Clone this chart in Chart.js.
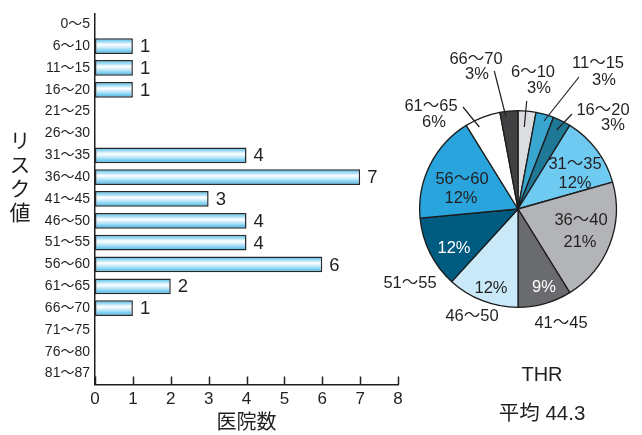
<!DOCTYPE html>
<html>
<head>
<meta charset="utf-8">
<script src="https://cdn.jsdelivr.net/npm/chart.js@4.4.1/dist/chart.umd.min.js"></script>
<style>
  body { margin: 0; background: #fff; }
  #wrap { position: relative; width: 642px; height: 435px; overflow: hidden;
          font-family: "Liberation Sans", "Noto Sans CJK JP", sans-serif; color: #231f20; }
  #barChart { position: absolute; left: 0; top: 0; }
  #pieChart { position: absolute; left: 370px; top: 0; }
  .yTitle { position: absolute; left: 9px; top: 130px; width: 22px; writing-mode: vertical-rl;
            font-family: "Noto Sans CJK JP", sans-serif; font-size: 21px; line-height: 22px; letter-spacing: 3px; }
  .note { position: absolute; left: 466px; width: 152px; text-align: center; }
</style>
</head>
<body>
<div id="wrap">
  <canvas id="barChart" width="410" height="435"></canvas>
  <canvas id="pieChart" width="272" height="435"></canvas>
  <div class="yTitle">リスク値</div>
  <div class="note" style="top:363px;font-size:20px;">THR</div>
  <div class="note" style="top:396px;font-size:20.5px;">平均 44.3</div>
</div>
<script>
const riskBands = ['0〜5', '6〜10', '11〜15', '16〜20', '21〜25', '26〜30', '31〜35', '36〜40', '41〜45',
  '46〜50', '51〜55', '56〜60', '61〜65', '66〜70', '71〜75', '76〜80', '81〜87'];
const clinicCounts = [0, 1, 1, 1, 0, 0, 4, 7, 3, 4, 4, 6, 2, 1, 0, 0, 0];
const countMax = 8;

// pie uses only the bands that have clinics in them
const pieBands = riskBands.filter((b, i) => clinicCounts[i] > 0);
const pieCounts = clinicCounts.filter(v => v > 0);
const piePercents = ['3%', '3%', '3%', '12%', '21%', '9%', '12%', '12%', '12%', '6%', '3%'];
const pieColours = ['#dcdde0', '#38a6cf', '#1f7896', '#6fcaf1', '#b3b4b7', '#6a6b6e',
  '#c9e9f9', '#005b80', '#29a4dc', '#ffffff', '#414144'];

const ink = '#231f20';

// caption placement per slice, offsets from the pie centre
// name: where the band name goes, pct: where the percentage goes, lead: leader line ends
const captionSpots = [
  { name: [15, -137], pct: [21, -121], lead: [8.7, -108, 6.3, -82] },
  { name: [80, -146], pct: [86, -129], lead: [61, -132, 26, -88] },
  { name: [85, -99], pct: [95, -84], lead: [54, -95, 38.7, -79] },
  { name: [57, -45], pct: [57, -26] },
  { name: [63, 11], pct: [62, 33] },
  { name: [43, 114], pct: [26, 78], pctColour: '#fff' },
  { name: [-46, 107], pct: [-27, 79] },
  { name: [-108, 74], pct: [-64, 39], pctColour: '#fff' },
  { name: [-56, -30], pct: [-57, -11] },
  { name: [-87, -103], pct: [-84, -87], lead: [-55, -102, -38.7, -82] },
  { name: [-42, -150], pct: [-41, -135], lead: [-23.7, -138, -12, -92] }
];

// bar fill: blue edges with a white shine just above the middle
function barFill(c) {
  const chart = c.chart;
  const y = chart.scales.y;
  if (!y || y.top === undefined) return '#8fd6f4';
  const mid = y.getPixelForValue(c.dataIndex);
  const g = chart.ctx.createLinearGradient(0, mid - 7, 0, mid + 7);
  g.addColorStop(0, '#55bfeb');
  g.addColorStop(0.4, '#ffffff');
  g.addColorStop(0.62, '#c4eafa');
  g.addColorStop(1, '#4ab9e9');
  return g;
}

const barExtras = {
  id: 'barExtras',
  afterDatasetsDraw(chart) {
    const ctx = chart.ctx;
    const meta = chart.getDatasetMeta(0);
    ctx.save();
    ctx.fillStyle = ink;
    ctx.font = '18.5px "Liberation Sans"';
    ctx.textBaseline = 'middle';
    meta.data.forEach((bar, i) => {
      if (clinicCounts[i] > 0) ctx.fillText(String(clinicCounts[i]), bar.x + 7, bar.y + 1);
    });
    // inward tick marks on the count axis
    const x = chart.scales.x;
    ctx.strokeStyle = ink;
    ctx.lineWidth = 1.5;
    for (let v = 0; v <= countMax; v++) {
      const px = Math.round(x.getPixelForValue(v)) + 0.5;
      ctx.beginPath();
      ctx.moveTo(px, x.top);
      ctx.lineTo(px, x.top - 8);
      ctx.stroke();
    }
    ctx.restore();
  }
};

new Chart(document.getElementById('barChart'), {
  type: 'bar',
  data: {
    labels: riskBands,
    datasets: [{
      data: clinicCounts,
      backgroundColor: barFill,
      borderColor: '#2a2a2a',
      borderWidth: c => (clinicCounts[c.dataIndex] > 0 ? 1.5 : 0),
      borderSkipped: false,
      barPercentage: 0.72,
      categoryPercentage: 1
    }]
  },
  options: {
    indexAxis: 'y',
    responsive: false,
    devicePixelRatio: 1,
    animation: false,
    layout: { padding: { top: 8, right: 12, left: 0, bottom: 0 } },
    plugins: { legend: { display: false }, tooltip: { enabled: false } },
    scales: {
      x: {
        min: 0, max: countMax,
        grid: { display: false, drawTicks: false },
        border: { color: ink, width: 1.5 },
        ticks: { stepSize: 1, color: ink, padding: 5, font: { family: 'Liberation Sans', size: 17 } },
        title: { display: true, text: '医院数', color: ink, padding: { top: 0, bottom: 2 },
                 font: { family: 'Noto Sans CJK JP', size: 20 } },
        afterFit: s => { s.height = 50.5; }
      },
      y: {
        grid: { display: false, drawTicks: false },
        border: { color: ink, width: 1.5 },
        ticks: { color: ink, padding: 5, font: { family: '"Liberation Sans", "Noto Sans CJK JP"', size: 14 } },
        afterFit: s => { s.width = 95; }
      }
    }
  },
  plugins: [barExtras]
});

const pieCaptions = {
  id: 'pieCaptions',
  afterDatasetsDraw(chart) {
    const ctx = chart.ctx;
    const arc = chart.getDatasetMeta(0).data[0];
    const cx = arc.x, cy = arc.y;
    ctx.save();
    ctx.font = '16.5px "Liberation Sans", "Noto Sans CJK JP"';
    ctx.textAlign = 'center';
    ctx.textBaseline = 'middle';
    ctx.strokeStyle = ink;
    ctx.lineWidth = 1.2;
    captionSpots.forEach((s, i) => {
      if (s.lead) {
        ctx.beginPath();
        ctx.moveTo(cx + s.lead[0], cy + s.lead[1]);
        ctx.lineTo(cx + s.lead[2], cy + s.lead[3]);
        ctx.stroke();
      }
      ctx.fillStyle = ink;
      ctx.fillText(pieBands[i], cx + s.name[0], cy + s.name[1]);
      ctx.fillStyle = s.pctColour || ink;
      ctx.fillText(piePercents[i], cx + s.pct[0], cy + s.pct[1]);
    });
    ctx.restore();
  }
};

new Chart(document.getElementById('pieChart'), {
  type: 'pie',
  data: {
    labels: pieBands,
    datasets: [{
      data: pieCounts,
      backgroundColor: pieColours,
      borderColor: '#1c1c1c',
      borderWidth: 1.3
    }]
  },
  options: {
    responsive: false,
    devicePixelRatio: 1,
    animation: false,
    layout: { padding: { left: 49, right: 25, top: 110, bottom: 127 } },
    plugins: { legend: { display: false }, tooltip: { enabled: false } }
  },
  plugins: [pieCaptions]
});
</script>
</body>
</html>
